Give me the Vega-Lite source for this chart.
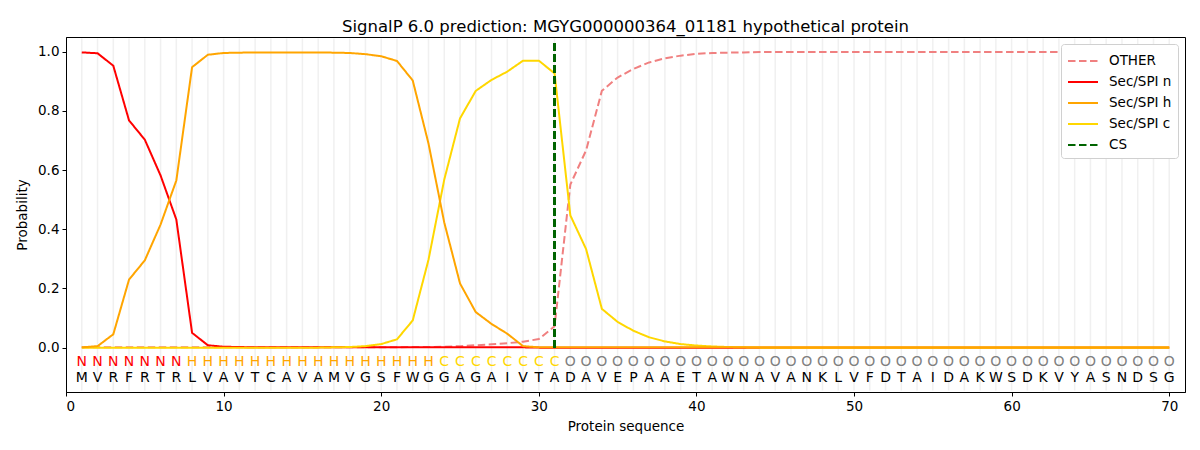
{
  "$schema": "https://vega.github.io/schema/vega-lite/v6.json",
  "width": 1119,
  "height": 355,
  "autosize": "none",
  "padding": {"left": 66, "top": 37, "right": 15, "bottom": 58},
  "background": "white",
  "title": {
    "text": "SignalP 6.0 prediction: MGYG000000364_01181 hypothetical protein",
    "font": "DejaVu Sans",
    "fontSize": 16.5,
    "fontWeight": "normal",
    "color": "black",
    "offset": 2
  },
  "data": {
    "values": [
      {"pos": 1, "aa": "M", "lab": "N", "OTHER": 0.001, "Sec/SPI n": 0.998, "Sec/SPI h": 0.001, "Sec/SPI c": 0.0},
      {"pos": 2, "aa": "V", "lab": "N", "OTHER": 0.001, "Sec/SPI n": 0.995, "Sec/SPI h": 0.005, "Sec/SPI c": 0.0},
      {"pos": 3, "aa": "R", "lab": "N", "OTHER": 0.001, "Sec/SPI n": 0.953, "Sec/SPI h": 0.045, "Sec/SPI c": 0.0},
      {"pos": 4, "aa": "F", "lab": "N", "OTHER": 0.001, "Sec/SPI n": 0.768, "Sec/SPI h": 0.23, "Sec/SPI c": 0.0},
      {"pos": 5, "aa": "R", "lab": "N", "OTHER": 0.001, "Sec/SPI n": 0.703, "Sec/SPI h": 0.295, "Sec/SPI c": 0.0},
      {"pos": 6, "aa": "T", "lab": "N", "OTHER": 0.001, "Sec/SPI n": 0.582, "Sec/SPI h": 0.416, "Sec/SPI c": 0.0},
      {"pos": 7, "aa": "R", "lab": "N", "OTHER": 0.001, "Sec/SPI n": 0.433, "Sec/SPI h": 0.565, "Sec/SPI c": 0.0},
      {"pos": 8, "aa": "L", "lab": "H", "OTHER": 0.001, "Sec/SPI n": 0.05, "Sec/SPI h": 0.948, "Sec/SPI c": 0.0},
      {"pos": 9, "aa": "V", "lab": "H", "OTHER": 0.001, "Sec/SPI n": 0.008, "Sec/SPI h": 0.99, "Sec/SPI c": 0.0},
      {"pos": 10, "aa": "A", "lab": "H", "OTHER": 0.001, "Sec/SPI n": 0.003, "Sec/SPI h": 0.996, "Sec/SPI c": 0.0},
      {"pos": 11, "aa": "V", "lab": "H", "OTHER": 0.001, "Sec/SPI n": 0.002, "Sec/SPI h": 0.997, "Sec/SPI c": 0.0},
      {"pos": 12, "aa": "T", "lab": "H", "OTHER": 0.001, "Sec/SPI n": 0.001, "Sec/SPI h": 0.998, "Sec/SPI c": 0.0},
      {"pos": 13, "aa": "C", "lab": "H", "OTHER": 0.001, "Sec/SPI n": 0.001, "Sec/SPI h": 0.998, "Sec/SPI c": 0.0},
      {"pos": 14, "aa": "A", "lab": "H", "OTHER": 0.001, "Sec/SPI n": 0.001, "Sec/SPI h": 0.998, "Sec/SPI c": 0.0},
      {"pos": 15, "aa": "V", "lab": "H", "OTHER": 0.001, "Sec/SPI n": 0.001, "Sec/SPI h": 0.998, "Sec/SPI c": 0.0},
      {"pos": 16, "aa": "A", "lab": "H", "OTHER": 0.001, "Sec/SPI n": 0.001, "Sec/SPI h": 0.998, "Sec/SPI c": 0.0},
      {"pos": 17, "aa": "M", "lab": "H", "OTHER": 0.001, "Sec/SPI n": 0.001, "Sec/SPI h": 0.997, "Sec/SPI c": 0.001},
      {"pos": 18, "aa": "V", "lab": "H", "OTHER": 0.001, "Sec/SPI n": 0.001, "Sec/SPI h": 0.996, "Sec/SPI c": 0.002},
      {"pos": 19, "aa": "G", "lab": "H", "OTHER": 0.001, "Sec/SPI n": 0.001, "Sec/SPI h": 0.992, "Sec/SPI c": 0.005},
      {"pos": 20, "aa": "S", "lab": "H", "OTHER": 0.001, "Sec/SPI n": 0.001, "Sec/SPI h": 0.985, "Sec/SPI c": 0.012},
      {"pos": 21, "aa": "F", "lab": "H", "OTHER": 0.001, "Sec/SPI n": 0.001, "Sec/SPI h": 0.969, "Sec/SPI c": 0.028},
      {"pos": 22, "aa": "W", "lab": "H", "OTHER": 0.002, "Sec/SPI n": 0.001, "Sec/SPI h": 0.903, "Sec/SPI c": 0.092},
      {"pos": 23, "aa": "G", "lab": "H", "OTHER": 0.002, "Sec/SPI n": 0.001, "Sec/SPI h": 0.69, "Sec/SPI c": 0.297},
      {"pos": 24, "aa": "G", "lab": "C", "OTHER": 0.003, "Sec/SPI n": 0.001, "Sec/SPI h": 0.423, "Sec/SPI c": 0.568},
      {"pos": 25, "aa": "A", "lab": "C", "OTHER": 0.005, "Sec/SPI n": 0.001, "Sec/SPI h": 0.217, "Sec/SPI c": 0.775},
      {"pos": 26, "aa": "G", "lab": "C", "OTHER": 0.008, "Sec/SPI n": 0.001, "Sec/SPI h": 0.12, "Sec/SPI c": 0.868},
      {"pos": 27, "aa": "A", "lab": "C", "OTHER": 0.011, "Sec/SPI n": 0.001, "Sec/SPI h": 0.08, "Sec/SPI c": 0.905},
      {"pos": 28, "aa": "I", "lab": "C", "OTHER": 0.015, "Sec/SPI n": 0.001, "Sec/SPI h": 0.047, "Sec/SPI c": 0.933},
      {"pos": 29, "aa": "V", "lab": "C", "OTHER": 0.02, "Sec/SPI n": 0.001, "Sec/SPI h": 0.005, "Sec/SPI c": 0.97},
      {"pos": 30, "aa": "T", "lab": "C", "OTHER": 0.029, "Sec/SPI n": 0.0, "Sec/SPI h": 0.001, "Sec/SPI c": 0.97},
      {"pos": 31, "aa": "A", "lab": "C", "OTHER": 0.072, "Sec/SPI n": 0.0, "Sec/SPI h": 0.001, "Sec/SPI c": 0.927},
      {"pos": 32, "aa": "D", "lab": "O", "OTHER": 0.551, "Sec/SPI n": 0.0, "Sec/SPI h": 0.001, "Sec/SPI c": 0.447},
      {"pos": 33, "aa": "A", "lab": "O", "OTHER": 0.667, "Sec/SPI n": 0.0, "Sec/SPI h": 0.001, "Sec/SPI c": 0.333},
      {"pos": 34, "aa": "V", "lab": "O", "OTHER": 0.868, "Sec/SPI n": 0.0, "Sec/SPI h": 0.001, "Sec/SPI c": 0.131},
      {"pos": 35, "aa": "E", "lab": "O", "OTHER": 0.913, "Sec/SPI n": 0.0, "Sec/SPI h": 0.001, "Sec/SPI c": 0.087},
      {"pos": 36, "aa": "P", "lab": "O", "OTHER": 0.942, "Sec/SPI n": 0.0, "Sec/SPI h": 0.001, "Sec/SPI c": 0.057},
      {"pos": 37, "aa": "A", "lab": "O", "OTHER": 0.964, "Sec/SPI n": 0.0, "Sec/SPI h": 0.001, "Sec/SPI c": 0.035},
      {"pos": 38, "aa": "A", "lab": "O", "OTHER": 0.978, "Sec/SPI n": 0.0, "Sec/SPI h": 0.001, "Sec/SPI c": 0.021},
      {"pos": 39, "aa": "E", "lab": "O", "OTHER": 0.987, "Sec/SPI n": 0.0, "Sec/SPI h": 0.001, "Sec/SPI c": 0.012},
      {"pos": 40, "aa": "T", "lab": "O", "OTHER": 0.993, "Sec/SPI n": 0.0, "Sec/SPI h": 0.001, "Sec/SPI c": 0.007},
      {"pos": 41, "aa": "A", "lab": "O", "OTHER": 0.996, "Sec/SPI n": 0.0, "Sec/SPI h": 0.001, "Sec/SPI c": 0.004},
      {"pos": 42, "aa": "W", "lab": "O", "OTHER": 0.997, "Sec/SPI n": 0.0, "Sec/SPI h": 0.001, "Sec/SPI c": 0.002},
      {"pos": 43, "aa": "N", "lab": "O", "OTHER": 0.998, "Sec/SPI n": 0.0, "Sec/SPI h": 0.001, "Sec/SPI c": 0.001},
      {"pos": 44, "aa": "A", "lab": "O", "OTHER": 0.999, "Sec/SPI n": 0.0, "Sec/SPI h": 0.001, "Sec/SPI c": 0.0},
      {"pos": 45, "aa": "V", "lab": "O", "OTHER": 0.999, "Sec/SPI n": 0.0, "Sec/SPI h": 0.001, "Sec/SPI c": 0.0},
      {"pos": 46, "aa": "A", "lab": "O", "OTHER": 0.999, "Sec/SPI n": 0.0, "Sec/SPI h": 0.001, "Sec/SPI c": 0.0},
      {"pos": 47, "aa": "N", "lab": "O", "OTHER": 0.999, "Sec/SPI n": 0.0, "Sec/SPI h": 0.001, "Sec/SPI c": 0.0},
      {"pos": 48, "aa": "K", "lab": "O", "OTHER": 0.999, "Sec/SPI n": 0.0, "Sec/SPI h": 0.001, "Sec/SPI c": 0.0},
      {"pos": 49, "aa": "L", "lab": "O", "OTHER": 0.999, "Sec/SPI n": 0.0, "Sec/SPI h": 0.001, "Sec/SPI c": 0.0},
      {"pos": 50, "aa": "V", "lab": "O", "OTHER": 0.999, "Sec/SPI n": 0.0, "Sec/SPI h": 0.001, "Sec/SPI c": 0.0},
      {"pos": 51, "aa": "F", "lab": "O", "OTHER": 0.999, "Sec/SPI n": 0.0, "Sec/SPI h": 0.001, "Sec/SPI c": 0.0},
      {"pos": 52, "aa": "D", "lab": "O", "OTHER": 0.999, "Sec/SPI n": 0.0, "Sec/SPI h": 0.001, "Sec/SPI c": 0.0},
      {"pos": 53, "aa": "T", "lab": "O", "OTHER": 0.999, "Sec/SPI n": 0.0, "Sec/SPI h": 0.001, "Sec/SPI c": 0.0},
      {"pos": 54, "aa": "A", "lab": "O", "OTHER": 0.999, "Sec/SPI n": 0.0, "Sec/SPI h": 0.001, "Sec/SPI c": 0.0},
      {"pos": 55, "aa": "I", "lab": "O", "OTHER": 0.999, "Sec/SPI n": 0.0, "Sec/SPI h": 0.001, "Sec/SPI c": 0.0},
      {"pos": 56, "aa": "D", "lab": "O", "OTHER": 0.999, "Sec/SPI n": 0.0, "Sec/SPI h": 0.001, "Sec/SPI c": 0.0},
      {"pos": 57, "aa": "A", "lab": "O", "OTHER": 0.999, "Sec/SPI n": 0.0, "Sec/SPI h": 0.001, "Sec/SPI c": 0.0},
      {"pos": 58, "aa": "K", "lab": "O", "OTHER": 0.999, "Sec/SPI n": 0.0, "Sec/SPI h": 0.001, "Sec/SPI c": 0.0},
      {"pos": 59, "aa": "W", "lab": "O", "OTHER": 0.999, "Sec/SPI n": 0.0, "Sec/SPI h": 0.001, "Sec/SPI c": 0.0},
      {"pos": 60, "aa": "S", "lab": "O", "OTHER": 0.999, "Sec/SPI n": 0.0, "Sec/SPI h": 0.001, "Sec/SPI c": 0.0},
      {"pos": 61, "aa": "D", "lab": "O", "OTHER": 0.999, "Sec/SPI n": 0.0, "Sec/SPI h": 0.001, "Sec/SPI c": 0.0},
      {"pos": 62, "aa": "K", "lab": "O", "OTHER": 0.999, "Sec/SPI n": 0.0, "Sec/SPI h": 0.001, "Sec/SPI c": 0.0},
      {"pos": 63, "aa": "V", "lab": "O", "OTHER": 0.999, "Sec/SPI n": 0.0, "Sec/SPI h": 0.001, "Sec/SPI c": 0.0},
      {"pos": 64, "aa": "Y", "lab": "O", "OTHER": 0.999, "Sec/SPI n": 0.0, "Sec/SPI h": 0.001, "Sec/SPI c": 0.0},
      {"pos": 65, "aa": "A", "lab": "O", "OTHER": 0.999, "Sec/SPI n": 0.0, "Sec/SPI h": 0.001, "Sec/SPI c": 0.0},
      {"pos": 66, "aa": "S", "lab": "O", "OTHER": 0.999, "Sec/SPI n": 0.0, "Sec/SPI h": 0.001, "Sec/SPI c": 0.0},
      {"pos": 67, "aa": "N", "lab": "O", "OTHER": 0.999, "Sec/SPI n": 0.0, "Sec/SPI h": 0.001, "Sec/SPI c": 0.0},
      {"pos": 68, "aa": "D", "lab": "O", "OTHER": 0.999, "Sec/SPI n": 0.0, "Sec/SPI h": 0.001, "Sec/SPI c": 0.0},
      {"pos": 69, "aa": "S", "lab": "O", "OTHER": 0.999, "Sec/SPI n": 0.0, "Sec/SPI h": 0.001, "Sec/SPI c": 0.0},
      {"pos": 70, "aa": "G", "lab": "O", "OTHER": 0.999, "Sec/SPI n": 0.0, "Sec/SPI h": 0.001, "Sec/SPI c": 0.0}
    ]
  },
  "encoding": {
    "x": {
      "field": "pos",
      "type": "quantitative",
      "scale": {"domain": [0, 71], "nice": false, "zero": false},
      "axis": {
        "title": "Protein sequence",
        "values": [0, 10, 20, 30, 40, 50, 60, 70],
        "format": "d",
        "grid": false
      }
    }
  },
  "layer": [
    {
      "mark": {"type": "rule", "color": "#ececec", "strokeWidth": 1.5, "opacity": 0.8},
      "encoding": {
        "y": {"datum": -0.145, "type": "quantitative"},
        "y2": {"datum": 1.045}
      }
    },
    {
      "transform": [
        {"fold": ["OTHER", "Sec/SPI n", "Sec/SPI c", "Sec/SPI h"], "as": ["series", "prob"]}
      ],
      "mark": {"type": "line", "strokeWidth": 2},
      "encoding": {
        "y": {
          "field": "prob",
          "type": "quantitative",
          "scale": {"domain": [-0.15, 1.05], "nice": false, "zero": false},
          "axis": {
            "title": "Probability",
            "values": [0, 0.2, 0.4, 0.6, 0.8, 1.0],
            "format": ".1f",
            "grid": false
          }
        },
        "color": {
          "field": "series",
          "type": "nominal",
          "scale": {
            "domain": ["OTHER", "Sec/SPI n", "Sec/SPI h", "Sec/SPI c", "CS"],
            "range": ["#f08080", "#ff0000", "#ffa500", "#ffd700", "#006400"]
          },
          "legend": {"title": null}
        },
        "strokeDash": {
          "field": "series",
          "type": "nominal",
          "scale": {
            "domain": ["OTHER", "Sec/SPI n", "Sec/SPI h", "Sec/SPI c", "CS"],
            "range": [[7.5, 3.5], [1, 0], [1, 0], [1, 0], [7.5, 3.5]]
          },
          "legend": {"title": null}
        }
      }
    },
    {
      "mark": {"type": "rule", "strokeWidth": 2},
      "encoding": {
        "x": {"datum": 31},
        "y": {"datum": 0},
        "y2": {"datum": 1.035},
        "color": {"datum": "CS"},
        "strokeDash": {"datum": "CS"}
      }
    },
    {
      "mark": {"type": "text", "font": "DejaVu Sans", "fontSize": 14, "baseline": "middle", "align": "center"},
      "encoding": {
        "y": {"datum": -0.048},
        "text": {"field": "lab"},
        "color": {
          "condition": [
            {"test": "datum.lab === 'N'", "value": "#ff0000"},
            {"test": "datum.lab === 'H'", "value": "#ffa500"},
            {"test": "datum.lab === 'C'", "value": "#ffd700"}
          ],
          "value": "#808080"
        }
      }
    },
    {
      "mark": {"type": "text", "font": "DejaVu Sans", "fontSize": 14, "baseline": "middle", "align": "center", "color": "black"},
      "encoding": {
        "y": {"datum": -0.103},
        "text": {"field": "aa"}
      }
    }
  ],
  "config": {
    "font": "DejaVu Sans",
    "view": {"stroke": "black", "strokeWidth": 1},
    "axis": {
      "domainColor": "black",
      "tickColor": "black",
      "tickSize": 4,
      "labelColor": "black",
      "labelFont": "DejaVu Sans",
      "labelFontSize": 13.5,
      "labelPadding": 3,
      "titleFont": "DejaVu Sans",
      "titleFontSize": 13.5,
      "titleFontWeight": "normal",
      "titleColor": "black"
    },
    "axisX": {"titlePadding": 7},
    "axisY": {"titlePadding": 8},
    "legend": {
      "orient": "top-right",
      "offset": 7,
      "padding": 6,
      "fillColor": "white",
      "strokeColor": "#d0d0d0",
      "cornerRadius": 3,
      "symbolType": "M-1.5,0H1.5",
      "symbolSize": 400,
      "symbolStrokeWidth": 2,
      "symbolOffset": 5,
      "labelFont": "DejaVu Sans",
      "labelFontSize": 13.5,
      "labelColor": "black",
      "labelOffset": 15,
      "rowPadding": 3
    }
  }
}
